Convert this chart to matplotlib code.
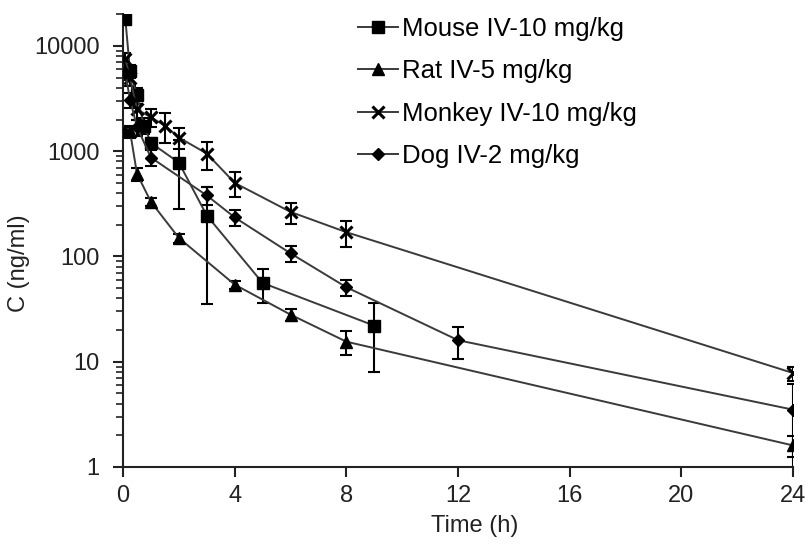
import matplotlib
matplotlib.use("Agg")
import matplotlib.pyplot as plt
from matplotlib.ticker import LogLocator, FuncFormatter, NullFormatter

plt.rcParams["font.family"] = ["Liberation Sans", "DejaVu Sans"]

# concentration-time data (mean, SD)
t_mouse = [0.083, 0.25, 0.5, 0.75, 1, 2, 3, 5, 9]
c_mouse = [18000, 5800, 3400, 1750, 1200, 780, 245, 56, 22]
sd_mouse = [1500, 800, 600, 300, 150, 500, 210, 20, 14]

t_rat = [0.083, 0.25, 0.5, 1, 2, 4, 6, 8, 24]
c_rat = [1550, 1550, 610, 330, 150, 54, 28, 15.5, 1.6]
sd_rat = [150, 200, 90, 30, 15, 5, 3.5, 4, 0.35]

t_monkey = [0.083, 0.25, 0.5, 1, 1.5, 2, 3, 4, 6, 8, 24]
c_monkey = [7500, 5000, 2500, 2100, 1750, 1350, 950, 500, 265, 170, 7.8]
sd_monkey = [1000, 800, 500, 400, 550, 300, 280, 130, 60, 48, 1.2]

t_dog = [0.083, 0.25, 0.5, 1, 3, 4, 6, 8, 12, 24]
c_dog = [5500, 3100, 1700, 870, 380, 235, 107, 51, 16, 3.5]
sd_dog = [800, 500, 300, 150, 75, 42, 18, 9, 5.5, 2.6]

series = [
    ("Mouse IV-10 mg/kg", t_mouse, c_mouse, sd_mouse, "s", 8),
    ("Rat IV-5 mg/kg", t_rat, c_rat, sd_rat, "^", 8.5),
    ("Monkey IV-10 mg/kg", t_monkey, c_monkey, sd_monkey, "x", 9),
    ("Dog IV-2 mg/kg", t_dog, c_dog, sd_dog, "D", 6.5),
]

fig = plt.figure(figsize=(8.11, 5.5), dpi=100)
ax = fig.add_axes([0.1517, 0.151, 0.8263, 0.823])

handles = []
for label, t, c, sd, mk, ms in series:
    ax.errorbar(t, c, yerr=sd, fmt="none", ecolor="black", elinewidth=1.5,
                capsize=4.5, capthick=1.5, zorder=2)
    h, = ax.plot(t, c, color="#3a3a3a", lw=1.4, marker=mk, markersize=ms,
                 markerfacecolor="black", markeredgecolor="black",
                 markeredgewidth=2.2 if mk == "x" else 1, label=label, zorder=3)
    handles.append(h)

ax.set_yscale("log")
ax.set_ylim(1, 20000)
ax.set_xlim(0, 24)
ax.set_xticks([0, 4, 8, 12, 16, 20, 24])
ax.yaxis.set_major_locator(LogLocator(base=10, numticks=10))
ax.yaxis.set_minor_locator(LogLocator(base=10, subs=range(2, 10), numticks=20))
ax.yaxis.set_major_formatter(FuncFormatter(lambda v, p: f"{int(round(v))}"))
ax.yaxis.set_minor_formatter(NullFormatter())

for s in ["top", "right"]:
    ax.spines[s].set_visible(False)
for s in ["left", "bottom"]:
    ax.spines[s].set_linewidth(1.5)
    ax.spines[s].set_color("#222222")

ax.tick_params(axis="both", which="major", direction="out", length=7, width=1.5,
               labelsize=17, colors="#222222", pad=6)
ax.tick_params(axis="y", which="major", pad=10)
ax.tick_params(axis="y", which="minor", direction="out", length=5, width=1.2,
               colors="#222222")

ax.set_xlabel("Time (h)", fontsize=17, color="#222222")
ax.xaxis.set_label_coords(0.525, -0.107)
ax.set_ylabel("C (ng/ml)", fontsize=17, color="#222222")
ax.yaxis.set_label_coords(-0.139, 0.45)

ax.legend(handles=handles, loc="upper left", bbox_to_anchor=(0.3504, 0.995),
          frameon=False, fontsize=18.5, handlelength=1.55, handletextpad=0.15,
          labelspacing=0.72, borderaxespad=0, borderpad=0)

fig.savefig("out.png", dpi=100)
